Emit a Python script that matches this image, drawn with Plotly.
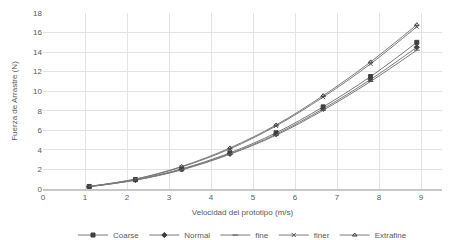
import plotly.graph_objects as go

velocidad = [1.1, 2.2, 3.3, 4.45, 5.55, 6.67, 7.8, 8.9]
coarse = [0.25, 0.95, 2.05, 3.7, 5.75, 8.4, 11.5, 15.0]
normal = [0.24, 0.92, 2.0, 3.6, 5.6, 8.2, 11.2, 14.5]
fine = [0.23, 0.9, 1.95, 3.55, 5.5, 8.05, 11.0, 14.2]
finer = [0.26, 1.0, 2.25, 4.1, 6.45, 9.4, 12.8, 16.6]
extrafine = [0.27, 1.02, 2.3, 4.2, 6.55, 9.55, 13.0, 16.8]

series = [
    ("Coarse", coarse, "square", "#404040"),
    ("Normal", normal, "diamond", "#404040"),
    ("fine", fine, "line-ew", "#505050"),
    ("finer", finer, "x-thin", "#505050"),
    ("Extrafine", extrafine, "triangle-up-open", "#404040"),
]

fig = go.Figure()
for name, ys, sym, col in series:
    fig.add_trace(go.Scatter(
        x=velocidad, y=ys, name=name, mode="lines+markers",
        line=dict(color="#7a7a7a", width=1, shape="spline"),
        marker=dict(symbol=sym, size=4, color=col,
                    line=dict(color=col, width=1)),
    ))

font_fam = "Liberation Sans, Arial, sans-serif"
fig.update_layout(
    width=461, height=240,
    margin=dict(l=35, r=27, t=5, b=59, autoexpand=False),
    paper_bgcolor="white", plot_bgcolor="white",
    font=dict(family=font_fam, size=8, color="#595959"),
    showlegend=True,
    legend=dict(orientation="h", x=0.5, xanchor="center",
                yref="container", y=0.054, yanchor="middle",
                font=dict(size=8, color="#595959"), itemwidth=30,
                tracegroupgap=0),
    xaxis=dict(range=[0, 9.5], tickmode="array", tickvals=list(range(10)),
               showgrid=True, gridcolor="#e3e3e3", gridwidth=1,
               showline=True, linecolor="#c8c8c8", linewidth=1.5,
               zeroline=False, ticks="", ticklabeloverflow="allow",
               tickfont=dict(size=8),
               title=dict(text="Velocidad del prototipo (m/s)", standoff=8,
                          font=dict(size=8, color="#595959"))),
    yaxis=dict(range=[0, 18], tickmode="array", tickvals=list(range(0, 19, 2)),
               showgrid=True, gridcolor="#e3e3e3", gridwidth=1,
               zeroline=False, showline=False, ticks="", ticklabeloverflow="allow",
               tickfont=dict(size=8),
               title=dict(text="Fuerza de Arrastre (N)", standoff=14,
                          font=dict(size=8, color="#595959"))),
)

fig.write_html("out.html")
